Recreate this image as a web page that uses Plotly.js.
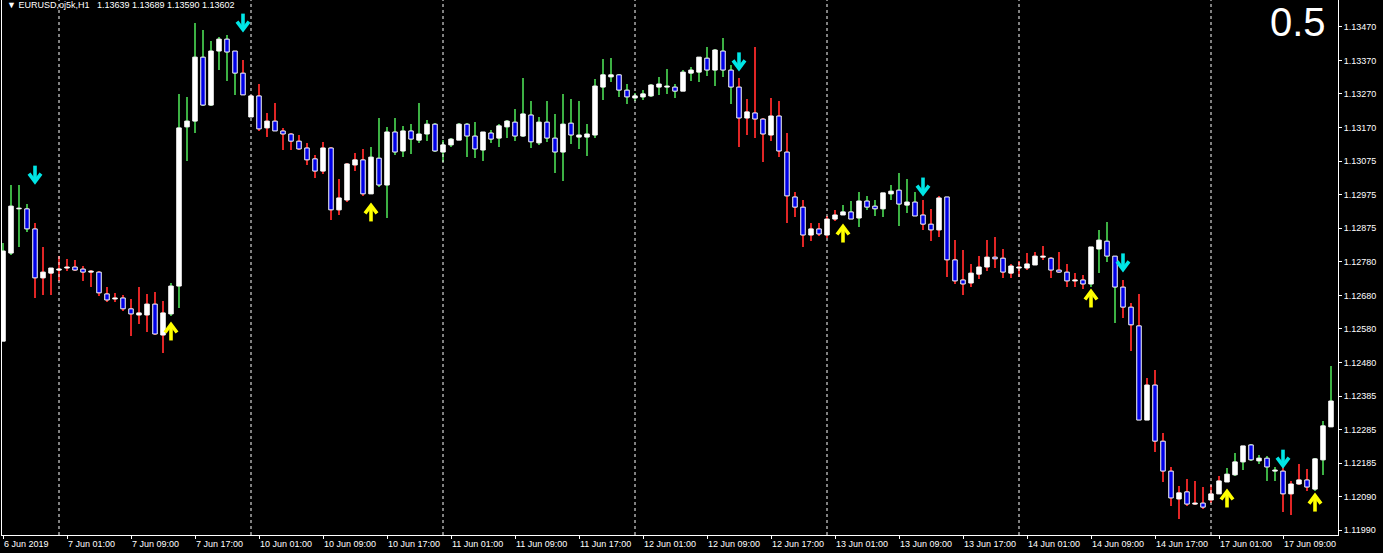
<!DOCTYPE html>
<html>
<head>
<meta charset="utf-8">
<script src="https://cdn.plot.ly/plotly-3.0.1.min.js"></script>
<style>
html,body{margin:0;padding:0;background:#000;}
#chart{width:1383px;height:553px;}
</style>
</head>
<body>
<div id="chart"></div>
<script>
// ---- Data: EURUSD H1, 6 Jun 2019 17:00 .. 17 Jun 2019 15:00 ----
const open = [1.12546,1.12805,1.12935,1.12935,1.12876,1.12732,1.12746,1.12755,1.12761,1.12764,
1.12758,1.12749,1.12749,1.12685,1.12670,1.12673,1.12641,1.12623,1.12623,1.12655,
1.12564,1.12626,1.12708,1.13176,1.13193,1.13381,1.13240,1.13399,1.13434,1.13399,
1.13334,1.13205,1.13267,1.13173,1.13193,1.13164,1.13155,1.13134,1.13114,1.13082,
1.13046,1.13114,1.12932,1.12961,1.13064,1.13079,1.12979,1.13084,1.13005,1.13161,
1.13105,1.13164,1.13137,1.13155,1.13184,1.13102,1.13123,1.13137,1.13184,1.13149,
1.13108,1.13158,1.13143,1.13176,1.13190,1.13149,1.13211,1.13129,1.13190,1.13143,
1.13102,1.13187,1.13146,1.13146,1.13152,1.13293,1.13323,1.13329,1.13284,1.13261,
1.13264,1.13267,1.13293,1.13293,1.13293,1.13281,1.13334,1.13337,1.13378,1.13343,
1.13399,1.13343,1.13293,1.13202,1.13217,1.13199,1.13152,1.13208,1.13102,1.12970,
1.12940,1.12858,1.12876,1.12858,1.12905,1.12917,1.12926,1.12908,1.12958,1.12943,
1.12935,1.12979,1.12990,1.12946,1.12955,1.12917,1.12890,1.12873,1.12970,1.12785,
1.12726,1.12717,1.12743,1.12764,1.12793,1.12790,1.12746,1.12761,1.12761,1.12770,
1.12793,1.12790,1.12755,1.12749,1.12723,1.12726,1.12714,1.12817,1.12840,1.12796,
1.12705,1.12646,1.12591,1.12314,1.12417,1.12252,1.12164,1.12082,1.12103,1.12067,
1.12070,1.12079,1.12097,1.12132,1.12153,1.12191,1.12241,1.12194,1.12202,1.12164,
1.12164,1.12097,1.12126,1.12138,1.12111,1.12197,1.12294];
const high = [1.12835,1.13005,1.13005,1.12949,1.12893,1.12823,1.12761,1.12796,1.12788,1.12785,
1.12767,1.12755,1.12752,1.12705,1.12688,1.12682,1.12670,1.12705,1.12685,1.12691,
1.12664,1.12717,1.13273,1.13264,1.13481,1.13461,1.13428,1.13440,1.13446,1.13399,
1.13373,1.13270,1.13302,1.13217,1.13246,1.13173,1.13158,1.13152,1.13129,1.13093,
1.13132,1.13117,1.13023,1.13070,1.13099,1.13111,1.13117,1.13202,1.13176,1.13202,
1.13179,1.13184,1.13246,1.13196,1.13187,1.13137,1.13143,1.13187,1.13187,1.13190,
1.13161,1.13167,1.13184,1.13196,1.13229,1.13320,1.13252,1.13205,1.13252,1.13214,
1.13273,1.13258,1.13252,1.13184,1.13317,1.13376,1.13378,1.13331,1.13302,1.13276,
1.13284,1.13302,1.13323,1.13346,1.13302,1.13343,1.13352,1.13381,1.13411,1.13405,
1.13437,1.13358,1.13320,1.13258,1.13411,1.13202,1.13261,1.13252,1.13158,1.12985,
1.12961,1.12893,1.12893,1.12914,1.12932,1.12946,1.12958,1.12985,1.12973,1.12961,
1.12982,1.13005,1.13040,1.13023,1.12985,1.12961,1.12935,1.12973,1.12970,1.12843,
1.12814,1.12773,1.12796,1.12843,1.12852,1.12817,1.12773,1.12782,1.12805,1.12808,
1.12826,1.12793,1.12808,1.12773,1.12746,1.12741,1.12823,1.12873,1.12896,1.12796,
1.12726,1.12658,1.12685,1.12438,1.12461,1.12276,1.12176,1.12120,1.12141,1.12135,
1.12117,1.12123,1.12150,1.12173,1.12217,1.12238,1.12244,1.12211,1.12208,1.12176,
1.12179,1.12135,1.12185,1.12170,1.12202,1.12311,1.12473];
const low = [1.12546,1.12799,1.12823,1.12867,1.12673,1.12682,1.12682,1.12723,1.12752,1.12752,
1.12723,1.12705,1.12679,1.12661,1.12661,1.12635,1.12561,1.12596,1.12573,1.12564,
1.12511,1.12620,1.12643,1.13076,1.13158,1.13237,1.13237,1.13343,1.13311,1.13270,
1.13270,1.13205,1.13164,1.13146,1.13164,1.13108,1.13108,1.13108,1.13064,1.13026,
1.13037,1.12902,1.12917,1.12955,1.13046,1.12973,1.12979,1.12999,1.12908,1.13093,
1.13087,1.13096,1.13129,1.13134,1.13102,1.13073,1.13117,1.13137,1.13087,1.13084,
1.13076,1.13129,1.13117,1.13143,1.13134,1.13146,1.13114,1.13123,1.13132,1.13040,
1.13017,1.13126,1.13111,1.13090,1.13143,1.13255,1.13308,1.13264,1.13243,1.13252,
1.13255,1.13264,1.13270,1.13273,1.13261,1.13281,1.13311,1.13308,1.13326,1.13296,
1.13323,1.13243,1.13117,1.13152,1.13143,1.13073,1.13134,1.13087,1.12893,1.12911,
1.12823,1.12840,1.12855,1.12849,1.12899,1.12917,1.12905,1.12882,1.12932,1.12914,
1.12911,1.12961,1.12885,1.12923,1.12914,1.12873,1.12840,1.12852,1.12735,1.12714,
1.12682,1.12705,1.12729,1.12752,1.12761,1.12732,1.12732,1.12735,1.12755,1.12770,
1.12785,1.12732,1.12746,1.12705,1.12705,1.12699,1.12705,1.12746,1.12779,1.12599,
1.12614,1.12517,1.12314,1.12314,1.12220,1.12132,1.12061,1.12023,1.12061,1.12064,
1.12053,1.12070,1.12097,1.12132,1.12150,1.12167,1.12194,1.12185,1.12135,1.12135,
1.12044,1.12035,1.12123,1.12105,1.12105,1.12153,1.12294];
const close = [1.12811,1.12943,1.12937,1.12876,1.12732,1.12749,1.12761,1.12758,1.12764,1.12755,
1.12749,1.12752,1.12688,1.12667,1.12673,1.12641,1.12626,1.12629,1.12655,1.12567,
1.12629,1.12708,1.13173,1.13193,1.13381,1.13240,1.13399,1.13434,1.13396,1.13334,
1.13270,1.13267,1.13170,1.13193,1.13164,1.13155,1.13134,1.13111,1.13079,1.13046,
1.13114,1.12932,1.12967,1.13067,1.13079,1.12979,1.13087,1.13005,1.13161,1.13102,
1.13164,1.13140,1.13155,1.13184,1.13105,1.13123,1.13140,1.13184,1.13149,1.13111,
1.13161,1.13140,1.13179,1.13193,1.13149,1.13214,1.13132,1.13190,1.13143,1.13102,
1.13184,1.13152,1.13152,1.13155,1.13296,1.13329,1.13329,1.13284,1.13264,1.13267,
1.13273,1.13299,1.13302,1.13296,1.13281,1.13337,1.13343,1.13381,1.13343,1.13402,
1.13343,1.13293,1.13202,1.13220,1.13199,1.13155,1.13208,1.13105,1.12973,1.12940,
1.12858,1.12876,1.12861,1.12905,1.12917,1.12926,1.12905,1.12958,1.12940,1.12935,
1.12982,1.12987,1.12949,1.12955,1.12914,1.12890,1.12873,1.12967,1.12785,1.12723,
1.12714,1.12746,1.12764,1.12793,1.12788,1.12749,1.12767,1.12764,1.12773,1.12796,
1.12796,1.12755,1.12749,1.12723,1.12726,1.12714,1.12823,1.12843,1.12796,1.12705,
1.12646,1.12594,1.12314,1.12417,1.12252,1.12164,1.12085,1.12100,1.12067,1.12070,
1.12058,1.12097,1.12135,1.12155,1.12191,1.12238,1.12197,1.12202,1.12176,1.12167,
1.12097,1.12126,1.12138,1.12117,1.12200,1.12297,1.12370];

// Signal arrows (bar index and price where the arrow is drawn)
const downArrowBars  = [4, 30, 92, 115, 140, 160];
const downArrowPrice = [1.13037, 1.13484, 1.13370, 1.13002, 1.12779, 1.12202];
const upArrowBars    = [21, 46, 105, 136, 153, 164];
const upArrowPrice   = [1.12573, 1.12923, 1.12861, 1.12670, 1.12082, 1.12070];

// Axis labels
const xTickBars   = [0,8,16,24,32,40,48,56,64,72,80,88,96,104,112,120,128,136,144,152,160];
const xTickLabels = ["6 Jun 2019","7 Jun 01:00","7 Jun 09:00","7 Jun 17:00","10 Jun 01:00","10 Jun 09:00","10 Jun 17:00",
  "11 Jun 01:00","11 Jun 09:00","11 Jun 17:00","12 Jun 01:00","12 Jun 09:00","12 Jun 17:00","13 Jun 01:00","13 Jun 09:00",
  "13 Jun 17:00","14 Jun 01:00","14 Jun 09:00","14 Jun 17:00","17 Jun 01:00","17 Jun 09:00"];
const daySeparatorBars = [7, 31, 55, 79, 103, 127, 151];
const yTickLabels = ["1.13470","1.13370","1.13270","1.13170","1.13075","1.12975","1.12875","1.12780",
  "1.12680","1.12580","1.12480","1.12385","1.12285","1.12185","1.12090","1.11990"];
const yTickTop = 1.13470, yTickBottom = 1.11990;

const headerText = "\u25BC EURUSD,oj5k,H1\u00a0\u00a0 1.13639 1.13689 1.13590 1.13602";
const cornerText = "0.5";

// ---- Build traces ----
const n = open.length;
const idx = open.map((_, i) => i);
const Y_RANGE = [1.119761, 1.13549];
const PLOT_H = 535, BAR_PX = 8;
const pyPerPx = (Y_RANGE[1] - Y_RANGE[0]) / PLOT_H;   // price units per pixel
const pxX = p => p / BAR_PX;                            // pixels -> bar units

// trend state (wick colour) flips at each signal arrow
const GREEN = '#3cb043', RED = '#e02525';
const wickColor = [];
let up = true;
for (let i = 0; i < n; i++) {
  if (downArrowBars.includes(i)) up = false;
  if (upArrowBars.includes(i)) up = true;
  wickColor.push(up ? GREEN : RED);
}

const minBody = 0.000012;
const bodyBase = idx.map(i => Math.min(open[i], close[i]));
const bodyH = idx.map(i => Math.max(Math.abs(close[i] - open[i]), minBody));
const bodyColor = idx.map(i => close[i] >= open[i] ? '#ffffff' : '#0000e6');

const wicks = {
  type: 'bar', x: idx, base: low, y: idx.map(i => high[i] - low[i]),
  width: 0.25, marker: {color: wickColor, line: {width: 0}},
  hoverinfo: 'skip', showlegend: false
};
const bodies = {
  type: 'bar', x: idx, base: bodyBase, y: bodyH,
  width: 0.56, marker: {color: bodyColor, line: {color: '#ffffff', width: 1}},
  hoverinfo: 'skip', showlegend: false
};

// arrow glyph drawn as a thick polyline around each signal point (dir = -1 down, +1 up)
function arrowTrace(bars, prices, dir, color) {
  const xs = [], ys = [];
  const hw = pxX(6), tipOff = 7.5 * pyPerPx, tail = 8.5 * pyPerPx, arm = 0.5 * pyPerPx;
  bars.forEach((b, k) => {
    const c = prices[k];
    const tip = c + dir * tipOff;
    // stem
    xs.push(b, b, null); ys.push(c - dir * tail, tip, null);
    // head
    xs.push(b - hw, b, b + hw, null); ys.push(c - dir * arm, tip, c - dir * arm, null);
  });
  return {type: 'scatter', mode: 'lines', x: xs, y: ys, connectgaps: false,
    line: {color: color, width: 3.6}, hoverinfo: 'skip', showlegend: false};
}
const downArrows = arrowTrace(downArrowBars, downArrowPrice, -1, '#00e5e5');
const upArrows = arrowTrace(upArrowBars, upArrowPrice, 1, '#ffff00');

const yTickVals = yTickLabels.map((_, k) => yTickTop - k * (yTickTop - yTickBottom) / (yTickLabels.length - 1));

const shapes = daySeparatorBars.map(b => ({
  type: 'line', xref: 'x', yref: 'paper', x0: b, x1: b, y0: 0, y1: 1,
  line: {color: '#ffffff', width: 1, dash: 'dot'}
}));

const layout = {
  width: 1383, height: 553,
  margin: {l: 2, r: 45, t: 0, b: 18, pad: 0},
  paper_bgcolor: '#000000', plot_bgcolor: '#000000',
  barmode: 'overlay', bargap: 0,
  font: {family: 'Liberation Sans, Arial, sans-serif', size: 9, color: '#ffffff'},
  xaxis: {
    range: [-0.125, 166.875], showgrid: false, zeroline: false,
    showline: true, linecolor: '#ffffff', linewidth: 1,
    ticks: 'outside', ticklen: 3, tickcolor: '#ffffff',
    tickvals: xTickBars, ticktext: xTickLabels,
    ticklabelposition: 'outside right',
    tickfont: {family: 'Liberation Sans, Arial, sans-serif', size: 9, color: '#ffffff'},
    fixedrange: true
  },
  yaxis: {
    side: 'right', range: Y_RANGE, showgrid: false, zeroline: false,
    showline: true, mirror: true, linecolor: '#ffffff', linewidth: 1,
    ticks: 'outside', ticklen: 3, tickcolor: '#ffffff',
    tickvals: yTickVals, ticktext: yTickLabels,
    tickfont: {family: 'Liberation Sans, Arial, sans-serif', size: 9, color: '#ffffff'},
    fixedrange: true
  },
  shapes: shapes,
  annotations: [
    {xref: 'paper', yref: 'paper', x: 0, y: 1, xanchor: 'left', yanchor: 'top',
     xshift: 3, yshift: 2, text: headerText, showarrow: false,
     font: {family: 'Liberation Sans, Arial, sans-serif', size: 9, color: '#ffffff'}},
    {xref: 'paper', yref: 'paper', x: 1, y: 1, xanchor: 'right', yanchor: 'top',
     xshift: -10, yshift: 2, text: cornerText, showarrow: false,
     font: {family: 'Liberation Sans, Arial, sans-serif', size: 40, color: '#ffffff'}}
  ]
};

Plotly.newPlot('chart', [wicks, bodies, downArrows, upArrows], layout, {displayModeBar: false, staticPlot: true});
</script>
</body>
</html>
